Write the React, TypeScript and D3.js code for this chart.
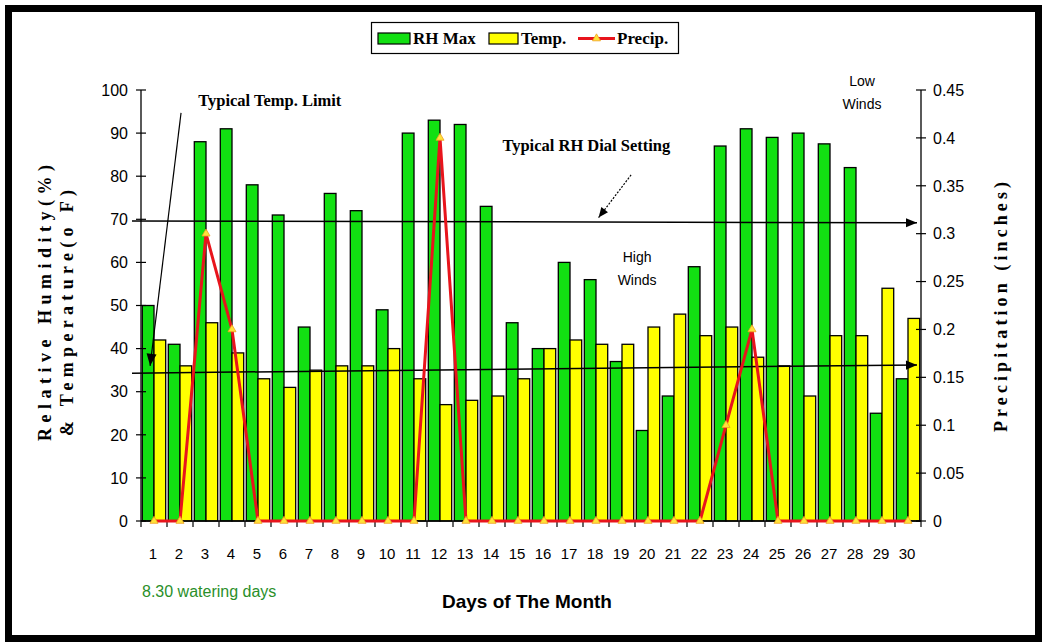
import React from 'react';
import * as d3 from 'd3';

// values
const days = d3.range(1, 31).map(String);
const rhMax = [50, 41, 88, 91, 78, 71, 45, 76, 72, 49, 90, 93, 92, 73, 46, 40, 60, 56, 37, 21, 29, 59, 87, 91, 89, 90, 87.5, 82, 25, 33];
const temp = [42, 36, 46, 39, 33, 31, 35, 36, 36, 40, 33, 27, 28, 29, 33, 40, 42, 41, 41, 45, 48, 43, 45, 38, 36, 29, 43, 43, 54, 47];
const precip = [0, 0, 0.3, 0.2, 0, 0, 0, 0, 0, 0, 0, 0.4, 0, 0, 0, 0, 0, 0, 0, 0, 0, 0, 0.1, 0.2, 0, 0, 0, 0, 0, 0];
const leftTicks = [0, 10, 20, 30, 40, 50, 60, 70, 80, 90, 100];
const rightTicks = [0, 0.05, 0.1, 0.15, 0.2, 0.25, 0.3, 0.35, 0.4, 0.45];

// reference lines (left-axis units) and annotations (day, left-axis units)
const rhDialLine = [69.6, 69.2];
const tempLimitLine = [34.3, 36.2];
const tempPointer = [[2.04, 94.7], [0.85, 36.0]];
const rhPointer = [[19.35, 80.3], [18.1, 70.4]];

const W = 1045;
const H = 644;
const margin = { left: 141, right: 921, top: 90, bottom: 521 };

const serif = '"Liberation Serif", "Times New Roman", serif';
const sans = '"Liberation Sans", Arial, sans-serif';

export default function App() {
  const x = d3.scaleBand<string>().domain(days).range([margin.left, margin.right]).paddingInner(0.1).paddingOuter(0.05);
  const xl = d3.scaleLinear().domain([0.5, 30.5]).range([margin.left, margin.right]);
  const y = d3.scaleLinear().domain([0, 100]).range([margin.bottom, margin.top]);
  const y2 = d3.scaleLinear().domain([0, 0.45]).range([margin.bottom, margin.top]);
  const bw = x.bandwidth() / 2;

  const line = d3.line<number>()
    .x((_, i) => xl(i + 1))
    .y(d => y2(d));

  const tri = d3.symbol().type(d3.symbolTriangle).size(28)();

  const lineStart = margin.left - 9;
  const lineEnd = margin.right - 4;

  const arrow = (x1: number, y1: number, x2: number, y2p: number, size = 10) => {
    const a = Math.atan2(y2p - y1, x2 - x1);
    const p1 = [x2 - size * Math.cos(a) + (size / 2.4) * Math.sin(a), y2p - size * Math.sin(a) - (size / 2.4) * Math.cos(a)];
    const p2 = [x2 - size * Math.cos(a) - (size / 2.4) * Math.sin(a), y2p - size * Math.sin(a) + (size / 2.4) * Math.cos(a)];
    return `M${x2},${y2p}L${p1[0]},${p1[1]}L${p2[0]},${p2[1]}Z`;
  };

  const tp = tempPointer.map(([d, v]) => [xl(d), y(v)]);
  const rp = rhPointer.map(([d, v]) => [xl(d), y(v)]);

  return (
    <svg width={W} height={H} style={{ position: 'absolute', left: 0, top: 0, background: '#fff' }}>
      <rect x={0} y={0} width={W} height={H} fill="#fff" />
      <rect x={8.5} y={8.5} width={1030} height={630} fill="none" stroke="#000" strokeWidth={7} />

      {/* bars */}
      {days.map((d, i) => (
        <g key={d}>
          <rect x={x(d)!} y={y(rhMax[i])} width={bw} height={y(0) - y(rhMax[i])} fill="#12e012" stroke="#000" strokeWidth={1.3} />
          <rect x={x(d)! + bw} y={y(temp[i])} width={bw} height={y(0) - y(temp[i])} fill="#ffff00" stroke="#000" strokeWidth={1.3} />
        </g>
      ))}

      {/* axes */}
      <line x1={margin.left} y1={margin.top} x2={margin.left} y2={margin.bottom} stroke="#000" strokeWidth={1.3} />
      <line x1={margin.right} y1={margin.top} x2={margin.right} y2={margin.bottom} stroke="#000" strokeWidth={1.3} />
      <line x1={margin.left} y1={margin.bottom} x2={margin.right} y2={margin.bottom} stroke="#000" strokeWidth={1.3} />
      {leftTicks.map(t => (
        <g key={t}>
          <line x1={margin.left - 5} x2={margin.left + 5} y1={y(t)} y2={y(t)} stroke="#000" strokeWidth={1.2} />
          <text x={margin.left - 13} y={y(t)} dy="0.36em" textAnchor="end" fontFamily={sans} fontSize={16}>{t}</text>
        </g>
      ))}
      {rightTicks.map(t => (
        <g key={t}>
          <line x1={margin.right - 5} x2={margin.right + 5} y1={y2(t)} y2={y2(t)} stroke="#000" strokeWidth={1.2} />
          <text x={margin.right + 12} y={y2(t)} dy="0.36em" textAnchor="start" fontFamily={sans} fontSize={16}>{String(t)}</text>
        </g>
      ))}
      {d3.range(0, 31).map(i => (
        <line key={i} x1={xl(i + 0.5)} x2={xl(i + 0.5)} y1={margin.bottom} y2={margin.bottom + 6} stroke="#000" strokeWidth={1.2} />
      ))}
      {days.map((d, i) => (
        <text key={d} x={xl(i + 1) - 1} y={559} textAnchor="middle" fontFamily={sans} fontSize={15}>{d}</text>
      ))}

      {/* reference lines */}
      <line x1={lineStart} y1={y(rhDialLine[0])} x2={lineEnd} y2={y(rhDialLine[1])} stroke="#000" strokeWidth={1.5} />
      <path d={arrow(lineStart, y(rhDialLine[0]), lineEnd, y(rhDialLine[1]), 11)} fill="#000" />
      <line x1={lineStart} y1={y(tempLimitLine[0])} x2={lineEnd} y2={y(tempLimitLine[1])} stroke="#000" strokeWidth={1.5} />
      <path d={arrow(lineStart, y(tempLimitLine[0]), lineEnd, y(tempLimitLine[1]), 11)} fill="#000" />

      {/* precipitation */}
      <path d={line(precip)!} fill="none" stroke="#e8141c" strokeWidth={3} />
      {precip.map((v, i) => (
        <path key={i} d={tri} transform={`translate(${xl(i + 1)},${y2(v)})`} fill="#ffe23a" stroke="#f0a020" strokeWidth={0.8} />
      ))}

      {/* pointers */}
      <line x1={tp[0][0]} y1={tp[0][1]} x2={tp[1][0]} y2={tp[1][1]} stroke="#000" strokeWidth={1.2} />
      <path d={arrow(tp[0][0], tp[0][1], tp[1][0], tp[1][1], 12)} fill="#000" />
      <line x1={rp[0][0]} y1={rp[0][1]} x2={rp[1][0]} y2={rp[1][1]} stroke="#000" strokeWidth={1.2} strokeDasharray="2,1.5" />
      <path d={arrow(rp[0][0], rp[0][1], rp[1][0], rp[1][1], 10)} fill="#000" />

      {/* axis titles */}
      <text transform="translate(51,303) rotate(-90)" textAnchor="middle" fontFamily={serif} fontWeight="bold" fontSize={18} textLength={276} lengthAdjust="spacing">Relative Humidity(%)</text>
      <text transform="translate(73,313) rotate(-90)" textAnchor="middle" fontFamily={serif} fontWeight="bold" fontSize={18} textLength={246} lengthAdjust="spacing">&amp; Temperature(o F)</text>
      <text transform="translate(1007,307) rotate(-90)" textAnchor="middle" fontFamily={serif} fontWeight="bold" fontSize={18} textLength={250} lengthAdjust="spacing">Precipitation (inches)</text>
      <text x={527} y={608} textAnchor="middle" fontFamily={sans} fontWeight="bold" fontSize={19}>Days of The Month</text>
      <text x={142} y={597} fontFamily={sans} fontSize={16} fill="#2a8f2a">8.30 watering days</text>

      {/* annotations */}
      <text x={xl(2.7)} y={y(96.3)} fontFamily={serif} fontWeight="bold" fontSize={16.5}>Typical Temp. Limit</text>
      <text x={xl(14.4)} y={y(85.8)} fontFamily={serif} fontWeight="bold" fontSize={16.5}>Typical RH Dial Setting</text>
      <text x={xl(19.58)} y={y(60.1)} textAnchor="middle" fontFamily={sans} fontSize={14}>High</text>
      <text x={xl(19.58)} y={y(54.8)} textAnchor="middle" fontFamily={sans} fontSize={14}>Winds</text>
      <text x={xl(28.23)} y={y(100.9)} textAnchor="middle" fontFamily={sans} fontSize={14}>Low</text>
      <text x={xl(28.23)} y={y(95.6)} textAnchor="middle" fontFamily={sans} fontSize={14}>Winds</text>

      {/* legend */}
      <g transform="translate(371,22)">
        <rect x={0.5} y={0.5} width={307} height={31} fill="#fff" stroke="#000" strokeWidth={1.2} />
        <rect x={7} y={11} width={32} height={11} fill="#12e012" stroke="#000" strokeWidth={1.2} />
        <text x={42} y={22} fontFamily={serif} fontWeight="bold" fontSize={17}>RH Max</text>
        <rect x={118} y={11} width={29} height={11} fill="#ffff00" stroke="#000" strokeWidth={1.2} />
        <text x={150} y={22} fontFamily={serif} fontWeight="bold" fontSize={17}>Temp.</text>
        <line x1={207} x2={244} y1={16.5} y2={16.5} stroke="#e8141c" strokeWidth={3} />
        <path d={tri} transform="translate(225.5,16.5)" fill="#ffe23a" stroke="#f0a020" strokeWidth={0.8} />
        <text x={246} y={22} fontFamily={serif} fontWeight="bold" fontSize={17}>Precip.</text>
      </g>
    </svg>
  );
}
